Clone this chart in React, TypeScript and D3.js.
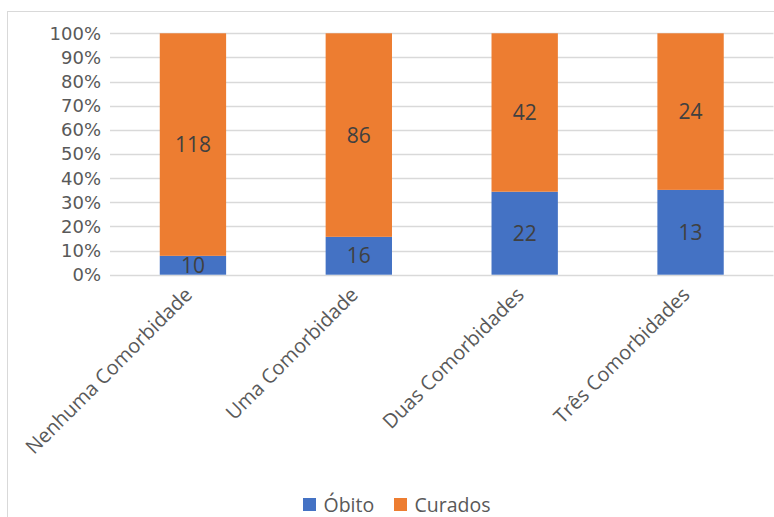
import React from "react";
import * as d3 from "d3";

const categories = ["Nenhuma Comorbidade", "Uma Comorbidade", "Duas Comorbidades", "Três Comorbidades"];
const obito = [10, 16, 22, 13];
const curados = [118, 86, 42, 24];
const seriesNames = ["Óbito", "Curados"];
const seriesColors = ["#4472C4", "#ED7D31"];
const yTicks = [0, 0.1, 0.2, 0.3, 0.4, 0.5, 0.6, 0.7, 0.8, 0.9, 1];

const W = 774;
const H = 517;
const FONT = "'Open Sans', sans-serif";

export default function App() {
  const x = d3.scaleBand<string>().domain(categories).range([110, 773.5]).paddingInner(0.6).paddingOuter(0.3);
  const y = d3.scaleLinear().domain([0, 1]).range([274.7, 33.3]);
  const fmt = d3.format(".0%");

  const rows = categories.map((c, i) => ({ cat: c, obito: obito[i], curados: curados[i] }));
  const stack = d3.stack<any>().keys(["obito", "curados"]).offset(d3.stackOffsetExpand);
  const layers = stack(rows);

  return (
    <svg width={W} height={H} style={{ position: "absolute", left: 0, top: 0, background: "#fff" }} fontFamily={FONT}>
      <rect x={7.5} y={11.5} width={900} height={700} fill="#fff" stroke="#D9D9D9" strokeWidth={1} />
      {yTicks.map((t) => (
        <g key={t}>
          <line x1={110} x2={773.5} y1={Math.round(y(t)) + 0.5} y2={Math.round(y(t)) + 0.5} stroke="#D9D9D9" strokeWidth={1.3} />
          <text x={101} y={y(t)} dy="0.36em" textAnchor="end" fontSize={18} fontFamily="'DejaVu Sans', sans-serif" fill="#595959">
            {fmt(t)}
          </text>
        </g>
      ))}
      {layers.map((layer, li) => (
        <g key={li}>
          {layer.map((d: any, i: number) => {
            const cat = categories[i];
            const x0 = x(cat)!;
            const y0 = y(d[1]);
            const y1 = y(d[0]);
            const val = li === 0 ? obito[i] : curados[i];
            return (
              <g key={cat}>
                <rect x={x0} y={y0} width={x.bandwidth()} height={y1 - y0} fill={seriesColors[li]} />
                <text x={x0 + x.bandwidth() / 2} y={(y0 + y1) / 2} dy="0.36em" textAnchor="middle" fontSize={21} fill="#404040">
                  {val}
                </text>
              </g>
            );
          })}
        </g>
      ))}
      {categories.map((c) => {
        const cx = x(c)! + x.bandwidth() / 2;
        return (
          <text key={c} transform={`translate(${cx + 0.5},${296}) rotate(-45)`} textAnchor="end" fontSize={20} fill="#595959">
            {c}
          </text>
        );
      })}
      <g>
        {seriesNames.map((s, i) => {
          const lx = i === 0 ? 303 : 394;
          return (
            <g key={s}>
              <rect x={lx} y={498} width={13} height={13} fill={seriesColors[i]} />
              <text x={lx + 20.5} y={504.5} dy="0.36em" fontSize={19.5} fill="#595959">
                {s}
              </text>
            </g>
          );
        })}
      </g>
    </svg>
  );
}
